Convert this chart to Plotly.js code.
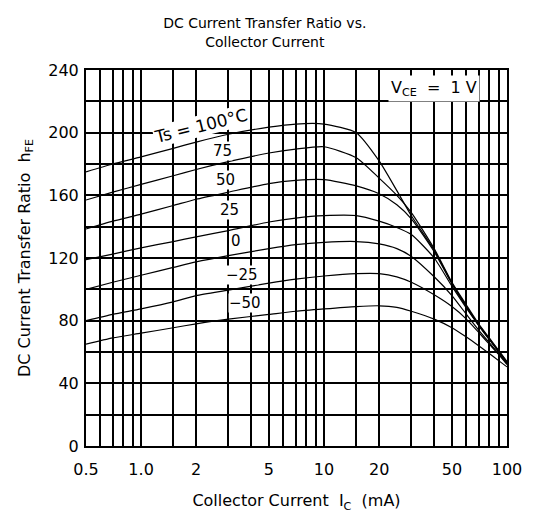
<!DOCTYPE html>
<html>
<head>
<meta charset="utf-8">
<script src="https://cdn.plot.ly/plotly-3.0.1.min.js"></script>
<style>
  html, body { margin: 0; padding: 0; background: #fff; }
  #chart { width: 554px; height: 517px; }
</style>
</head>
<body>
<div id="chart"></div>
<script>
// Collector current (mA)
const currentMA = [0.5, 0.7, 1, 1.5, 2, 3, 5, 7, 10, 15, 20, 25, 30, 40, 50, 60, 70, 80, 90, 100];

// hFE for each ambient temperature
const hfe100 = [175, 180, 184.5, 190, 194, 199, 203.5, 205.5, 205.5, 200, 182, 163, 147, 125, 104, 89, 77, 68, 60, 53];
const hfe75  = [157, 162, 167, 172.5, 176.5, 181.5, 187, 189.5, 191, 184, 171, 160, 149, 126, 104.5, 90, 78, 69, 61, 54];
const hfe50  = [138.5, 143.5, 148, 153.5, 157.5, 162, 167.5, 169.5, 170, 166, 161, 154, 145, 124, 103.5, 89, 77.5, 68.5, 60.5, 53.5];
const hfe25  = [119, 122.5, 126.5, 130.5, 133.5, 137.5, 143, 145.5, 147, 147, 143.5, 139.5, 135, 120, 102, 88, 77, 68, 60.5, 53];
const hfe0   = [100, 104.5, 109, 114, 117.5, 121.5, 126, 128.5, 130, 130.5, 129, 126, 121, 108, 96, 84, 74, 66, 59, 52.5];
const hfeM25 = [80, 84, 87.5, 92, 96, 99.5, 104, 106.5, 108.5, 110, 110, 108, 104.5, 96.5, 89, 81, 72.5, 65, 58.5, 52];
const hfeM50 = [65, 69, 72, 75.5, 78, 81, 84, 86, 87.5, 89, 89.5, 88.5, 86, 81, 75.5, 69.5, 64, 59, 54.5, 50.5];

const seriesList = [hfe100, hfe75, hfe50, hfe25, hfe0, hfeM25, hfeM50];
const seriesNames = ['Ta = 100°C', '75°C', '50°C', '25°C', '0°C', '−25°C', '−50°C'];

// Curve labels (text, x, y)
const labelText = ['Ts = 100°C', '75', '50', '25', '0', '−25', '−50'];
const labelX = [2.1, 2.8, 2.9, 3.05, 3.3, 3.55, 3.7];
const labelY = [204.5, 188.5, 169.5, 150.5, 131, 109, 91];
const labelAngle = [-14, 0, 0, 0, 0, 0, 0];

// Axis ticks
const xTickVals = [0.5, 1, 2, 5, 10, 20, 50, 100];
const xTickText = ['0.5', '1.0', '2', '5', '10', '20', '50', '100'];
const xGridVals = [0.6, 0.7, 0.8, 0.9, 1.5, 3, 4, 6, 7, 8, 9, 15, 30, 40, 60, 70, 80, 90];
const yTickVals = [0, 40, 80, 120, 160, 200, 240];

const FONT = 'DejaVu Sans, Liberation Sans, Arial, sans-serif';

const traces = seriesList.map((ys, i) => ({
  type: 'scatter',
  mode: 'lines',
  x: currentMA,
  y: ys,
  name: seriesNames[i],
  line: { color: '#000', width: 1.2, shape: 'spline', smoothing: 0.6 },
  hoverinfo: 'x+y+name'
}));

const annotations = labelText.map((t, i) => ({
  x: Math.log10(labelX[i]),
  y: labelY[i],
  xref: 'x',
  yref: 'y',
  text: t,
  showarrow: false,
  textangle: labelAngle[i],
  font: { family: FONT, size: i === 0 ? 17 : 15, color: '#000' },
  bgcolor: '#fff',
  borderpad: 0
}));

annotations.push({
  x: Math.log10(40),
  y: 228,
  xref: 'x',
  yref: 'y',
  text: 'V<sub>CE</sub>  =  1 V',
  showarrow: false,
  font: { family: FONT, size: 16, color: '#000' },
  bgcolor: '#fff',
  borderpad: 2
});

const layout = {
  width: 554,
  height: 517,
  margin: { l: 86, r: 47, t: 70, b: 71 },
  paper_bgcolor: '#fff',
  plot_bgcolor: '#fff',
  showlegend: false,
  font: { family: FONT, color: '#000' },
  title: {
    text: 'DC Current Transfer Ratio vs.<br>Collector Current',
    font: { family: FONT, size: 14, color: '#000' },
    xref: 'container',
    yref: 'container',
    x: 0.478,
    xanchor: 'center',
    y: 0.945,
    yanchor: 'middle'
  },
  xaxis: {
    type: 'log',
    range: [Math.log10(0.5), 2],
    tickmode: 'array',
    tickvals: xTickVals,
    ticktext: xTickText,
    ticks: '',
    ticklabelstandoff: 8,
    tickfont: { family: FONT, size: 16, color: '#000' },
    showgrid: true,
    gridcolor: '#000',
    gridwidth: 2,
    minor: { tickmode: 'array', tickvals: xGridVals, showgrid: true, gridcolor: '#000', gridwidth: 2, ticks: '' },
    showline: true,
    linecolor: '#000',
    linewidth: 2,
    mirror: true,
    zeroline: false,
    title: { text: 'Collector Current  I<sub>C</sub>  (mA)', font: { family: FONT, size: 16, color: '#000' }, standoff: 17 }
  },
  yaxis: {
    range: [0, 240],
    tickmode: 'array',
    tickvals: yTickVals,
    ticks: '',
    ticklabelstandoff: 2,
    tickfont: { family: FONT, size: 16, color: '#000' },
    showgrid: true,
    gridcolor: '#000',
    gridwidth: 2,
    minor: { dtick: 20, tick0: 0, showgrid: true, gridcolor: '#000', gridwidth: 2, ticks: '' },
    showline: true,
    linecolor: '#000',
    linewidth: 2,
    mirror: true,
    zeroline: false,
    title: { text: 'DC Current Transfer Ratio  h<sub>FE</sub>', font: { family: FONT, size: 16, color: '#000' }, standoff: 14 }
  },
  annotations: annotations
};

Plotly.newPlot('chart', traces, layout, { displayModeBar: false, staticPlot: true });
</script>
</body>
</html>
